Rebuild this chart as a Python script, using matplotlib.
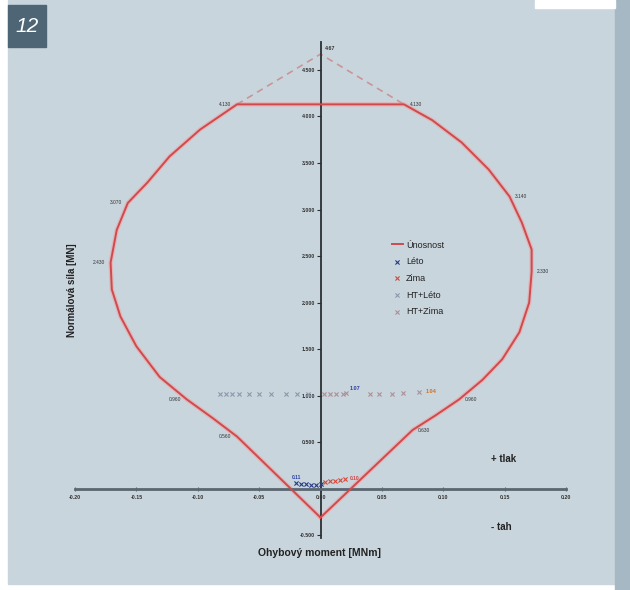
import matplotlib.pyplot as plt
from matplotlib.patches import Rectangle

plt.rcParams['font.family'] = ['Liberation Sans', 'DejaVu Sans']

# ohybovy moment [MNm] / normalova sila [MN] - obalka unosnosti
env_m = [0.0, -0.068, -0.088, -0.109, -0.131, -0.150, -0.163, -0.170, -0.171,
         -0.166, -0.157, -0.141, -0.123, -0.098, -0.068,
         0.068, 0.091, 0.115, 0.137, 0.154, 0.164, 0.172, 0.172,
         0.170, 0.162, 0.148, 0.132, 0.113, 0.094, 0.075, 0.0]
env_n = [-0.31, 0.56, 0.76, 0.96, 1.20, 1.53, 1.85, 2.14, 2.43,
         2.78, 3.07, 3.29, 3.57, 3.86, 4.13,
         4.13, 3.96, 3.72, 3.43, 3.14, 2.86, 2.57, 2.33,
         2.00, 1.68, 1.39, 1.17, 0.96, 0.79, 0.63, -0.31]

# spicka (teoreticka, carkovane)
peak_m = [-0.068, 0.0, 0.068]
peak_n = [4.13, 4.67, 4.13]

# popisky bodu obalky
lab_m = [-0.068, -0.157, -0.171, -0.109, -0.068, 0.068, 0.154, 0.172, 0.113, 0.075]
lab_n = [4.13, 3.07, 2.43, 0.96, 0.56, 4.13, 3.14, 2.33, 0.96, 0.63]

# zatezovaci stavy
leto_m = [-0.020, -0.016, -0.012, -0.008, -0.004, 0.000]
leto_n = [0.06, 0.05, 0.05, 0.04, 0.04, 0.05]
zima_m = [0.004, 0.008, 0.012, 0.016, 0.020]
zima_n = [0.07, 0.08, 0.08, 0.09, 0.10]
htleto_m = [-0.082, -0.077, -0.072, -0.066, -0.058, -0.050, -0.040, -0.028, -0.019, -0.010]
htleto_n = [1.02, 1.02, 1.02, 1.02, 1.02, 1.02, 1.02, 1.02, 1.02, 1.02]
htzima_m = [0.003, 0.008, 0.013, 0.018, 0.021, 0.040, 0.048, 0.058, 0.067, 0.080]
htzima_n = [1.02, 1.02, 1.02, 1.02, 1.03, 1.02, 1.02, 1.02, 1.03, 1.04]

xticks = [-0.20, -0.15, -0.10, -0.05, 0.00, 0.05, 0.10, 0.15, 0.20]
yticks = [-0.5, 0.5, 1.0, 1.5, 2.0, 2.5, 3.0, 3.5, 4.0, 4.5]

fig = plt.figure(figsize=(6.3, 5.9), dpi=100, facecolor='white')

# pozadi stranky
fig.patches.append(Rectangle((8 / 630, 6 / 590), 607 / 630, 584 / 590,
                             transform=fig.transFigure, color='#c9d5dd', zorder=-10))
fig.patches.append(Rectangle((615 / 630, 0), 15 / 630, 1,
                             transform=fig.transFigure, color='#a6b8c4', zorder=-10))
fig.patches.append(Rectangle((535 / 630, 582 / 590), 80 / 630, 8 / 590,
                             transform=fig.transFigure, color='white', zorder=-9))
fig.patches.append(Rectangle((8 / 630, 543 / 590), 38 / 630, 42 / 590,
                             transform=fig.transFigure, color='#4e6575', zorder=-9))
fig.text(27 / 630, 564 / 590, '12', color='white', fontsize=15, style='italic',
         ha='center', va='center')

ax = fig.add_axes([75 / 630, 52 / 590, 491 / 630, 496 / 590])
ax.set_facecolor('none')
ax.set_xlim(-0.2, 0.2)
ax.set_ylim(-0.53, 4.80)

for s in ['top', 'right']:
    ax.spines[s].set_visible(False)
ax.spines['left'].set_position(('data', 0))
ax.spines['bottom'].set_position(('data', 0))
ax.spines['left'].set_color('#2b2f33')
ax.spines['left'].set_linewidth(1.3)
ax.spines['bottom'].set_color('#5a6670')
ax.spines['bottom'].set_linewidth(2)

ax.set_xticks(xticks)
ax.set_xticklabels(['%.2f' % v for v in xticks])
ax.set_yticks(yticks)
ax.set_yticklabels(['%.3f' % v for v in yticks])
ax.tick_params(axis='x', direction='inout', length=3, width=0.8, color='#5a6670',
               labelsize=3.8, labelcolor='#333333', pad=3)
ax.tick_params(axis='y', direction='out', length=3, width=0.8, color='#2b2f33',
               labelsize=3.8, labelcolor='#333333', pad=1)
for t in ax.get_xticklabels() + ax.get_yticklabels():
    t.set_fontweight('bold')

# obalka
ax.plot(env_m, env_n, color='#eaa9a9', lw=3.2, alpha=0.7, zorder=2)
ax.plot(env_m, env_n, color='#cf4a4e', lw=1.4, zorder=3, label='Únosnost')
ax.plot(peak_m, peak_n, color='#c99595', lw=1.2, dashes=(4, 3), zorder=2)

ax.annotate('%.2f' % peak_n[1], (peak_m[1], peak_n[1]), xytext=(3, 3),
            textcoords='offset points', fontsize=3.8, fontweight='bold', color='#333333')
for m, n in zip(lab_m, lab_n):
    if m < 0:
        ax.annotate('%.3f' % n, (m, n), xytext=(-4, 0), textcoords='offset points',
                    fontsize=3.5, color='#333333', ha='right', va='center')
    else:
        ax.annotate('%.3f' % n, (m, n), xytext=(4, 0), textcoords='offset points',
                    fontsize=3.5, color='#333333', ha='left', va='center')

# zatizeni
ax.scatter(leto_m, leto_n, marker='x', s=9, lw=0.8, color='#253a86', zorder=4, label='Léto')
ax.scatter(zima_m, zima_n, marker='x', s=9, lw=0.8, color='#d24a3a', zorder=4, label='Zima')
ax.scatter(htleto_m, htleto_n, marker='x', s=9, lw=0.8, color='#8d98aa', zorder=4, label='HT+Léto')
ax.scatter(htzima_m, htzima_n, marker='x', s=9, lw=0.8, color='#ad8f96', zorder=4, label='HT+Zima')

ax.text(0.028, 1.08, '%.2f' % 1.07, fontsize=4, fontweight='bold', color='#2a3ea0',
        ha='center', va='center', zorder=5)
ax.text(htzima_m[-1] + 0.006, htzima_n[-1], '%.2f' % htzima_n[-1], fontsize=4,
        fontweight='bold', color='#d07020', ha='left', va='center', zorder=5)
ax.text(leto_m[0], 0.12, '%.2f' % 0.11, fontsize=3.5, fontweight='bold', color='#2a3ea0',
        ha='center', va='center', zorder=5)
ax.text(zima_m[-1] + 0.004, 0.11, '%.2f' % 0.10, fontsize=3.5, fontweight='bold',
        color='#d04040', ha='left', va='center', zorder=5)

leg = ax.legend(loc='upper left', bbox_to_anchor=(387 / 630, 1 - 236 / 590),
                bbox_transform=fig.transFigure, frameon=False, fontsize=6.5,
                handlelength=1.3, handletextpad=0.3, labelspacing=0.85, borderpad=0)
for t in leg.get_texts():
    t.set_color('#222222')

fig.text(72 / 630, 1 - 290 / 590, 'Normálová síla [MN]', rotation=90, fontsize=7,
         fontweight='bold', color='#222222', ha='center', va='center')
fig.text(320 / 630, 1 - 553 / 590, 'Ohybový moment [MNm]', fontsize=7.5,
         fontweight='bold', color='#222222', ha='center', va='center')
fig.text(491 / 630, 1 - 459 / 590, '+ tlak', fontsize=7, fontweight='bold',
         color='#222222', ha='left', va='center')
fig.text(491 / 630, 1 - 527 / 590, '- tah', fontsize=7, fontweight='bold',
         color='#222222', ha='left', va='center')

plt.savefig('out.png', dpi=100, facecolor=fig.get_facecolor())
